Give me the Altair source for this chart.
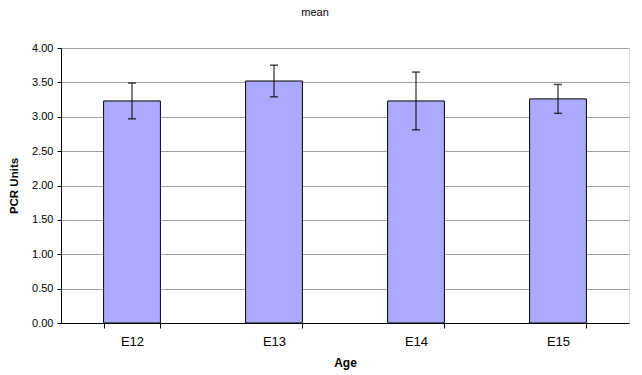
import altair as alt
import pandas as pd

ages = ["E12", "E13", "E14", "E15"]
means = [3.23, 3.52, 3.23, 3.26]
errors = [0.26, 0.23, 0.42, 0.21]
y_ticks = [0, 0.5, 1, 1.5, 2, 2.5, 3, 3.5, 4]

df = pd.DataFrame({"Age": ages, "mean": means, "err": errors})
df["lo"] = df["mean"] - df["err"]
df["hi"] = df["mean"] + df["err"]

FONT = "Liberation Sans"

x = alt.X("Age:N", sort=ages,
          scale=alt.Scale(paddingInner=0.6, paddingOuter=0.3),
          axis=alt.Axis(title="Age", labelAngle=0, tickBand="extent",
                        tickSize=5, tickColor="#000000", domainColor="#000000",
                        labelFontSize=13, labelFont=FONT, labelColor="#000000",
                        labelPadding=7, titleFont=FONT, titleFontSize=12,
                        titleFontWeight="bold", titlePadding=9, titleColor="#000000",
                        grid=False))

bars = alt.Chart(df).mark_bar(fill="#AAAAFF", stroke="#000000", strokeWidth=1).encode(
    x=x,
    y=alt.Y("mean:Q", scale=alt.Scale(domain=[0, 4], nice=False),
            axis=alt.Axis(title="PCR Units", values=y_ticks, tickCount=9,
                          labelOverlap=False, grid=True,
                          format=".2f", tickSize=4, tickColor="#000000",
                          domainColor="#000000", gridColor="#A0A0A0", gridWidth=1,
                          labelFontSize=11, labelFont=FONT, labelColor="#000000",
                          labelPadding=4, titleFont=FONT, titleFontSize=11.5,
                          titleFontWeight="bold", titlePadding=12, titleColor="#000000"))
)

rules = alt.Chart(df).mark_rule(color="#000000", strokeWidth=1).encode(
    x=alt.X("Age:N", sort=ages), y="lo:Q", y2="hi:Q"
)
caps_lo = alt.Chart(df).mark_tick(color="#000000", size=8, thickness=1.5, orient="horizontal").encode(
    x=alt.X("Age:N", sort=ages), y="lo:Q"
)
caps_hi = alt.Chart(df).mark_tick(color="#000000", size=8, thickness=1.5, orient="horizontal").encode(
    x=alt.X("Age:N", sort=ages), y="hi:Q"
)

chart = alt.layer(bars, rules, caps_lo, caps_hi).properties(
    width=568, height=275,
    title=alt.TitleParams("mean", fontSize=11, font=FONT, fontWeight="normal",
                          color="#000000", anchor="middle", offset=24, dx=-30),
    autosize=alt.AutoSizeParams(type="none"),
    padding={"left": 61, "top": 48, "right": 13, "bottom": 52},
).configure_view(
    fill="#CCCCCC", stroke="#888888", strokeWidth=1
).configure(background="#FFFFFF")

chart.save("out.html", embed_options={"renderer": "svg", "actions": False})
